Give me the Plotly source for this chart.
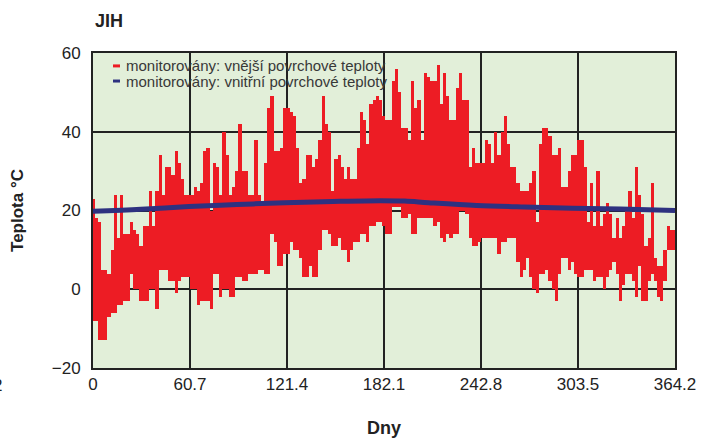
import plotly.graph_objects as go

# Days (2-day steps) and outer surface temperature envelope (daily max / min)
days = list(range(0, 366, 2))
outer_hi = [23,18,17,5,5,4,10,24,13,24,14,14,17,15,14,11,16,16,25,16,25,34,24,31,31,29,35,32,28,24,24,
            24,26,25,27,35,36,20,32,31,24,40,34,24,26,30,42,30,30,24,24,38,24,22,32,46,49,35,35,36,46,
            46,45,44,36,27,28,34,34,31,33,38,49,42,40,25,33,34,31,28,31,28,28,36,45,43,37,47,48,49,48,44,
            43,43,53,56,50,41,41,38,53,46,48,38,55,54,53,53,57,47,55,49,43,43,51,55,48,48,31,36,32,32,
            32,38,37,32,40,34,40,44,37,31,31,27,25,25,25,27,30,17,37,41,41,39,34,34,36,26,26,30,34,
            34,38,38,31,17,27,16,30,16,19,22,19,13,18,13,16,20,25,18,31,24,19,11,13,27,8,6,6,10,16,15,15]
outer_lo = [-8,-8,-13,-13,-13,-7,-6,-6,-4,-4,-3,-3,4,0,0,-3,-3,-3,0,0,-5,5,5,5,2,2,-1,2,3,3,3,
            0,0,-4,-3,-3,-3,-5,4,4,-2,0,0,-2,-2,3,3,2,2,4,4,4,5,5,4,4,14,12,6,6,9,
            9,12,10,10,8,3,3,6,3,3,10,15,15,14,11,11,13,10,10,7,10,12,12,14,14,12,16,16,17,17,16,
            14,14,21,21,21,18,18,19,14,14,18,18,18,18,18,16,17,13,12,14,13,14,14,20,20,19,13,11,11,12,
            13,13,13,13,13,9,12,12,13,13,13,7,3,5,8,3,0,-1,4,4,5,2,0,-3,4,8,8,5,7,
            4,3,3,5,5,5,2,3,3,0,3,5,7,4,-3,1,4,4,2,-2,6,-3,-3,2,4,2,-2,-3,2,10,10,10]

# Inner surface temperature
inner_days = [0, 30, 60, 90, 120, 150, 180, 195, 210, 240, 270, 300, 330, 364.2]
inner_t = [19.8, 20.3, 21.0, 21.5, 22.0, 22.3, 22.5, 22.4, 22.0, 21.3, 20.9, 20.6, 20.4, 20.0]

x_ticks = [0, 60.7, 121.4, 182.1, 242.8, 303.5, 364.2]
x_ticklabels = ["0", "60.7", "121.4", "182.1", "242.8", "303.5", "364.2"]
y_ticks = [-20, 0, 20, 40, 60]

name_outer = "monitorovány: vnější povrchové teploty"
name_inner = "monitorovány: vnitřní povrchové teploty"

RED = "#ed1c24"
BLUE = "#2e3180"
SANS = "Liberation Sans, Arial, sans-serif"
DARK = "#222222"

fig = go.Figure()
fig.add_trace(go.Bar(
    x=days, y=[h - l for h, l in zip(outer_hi, outer_lo)], base=outer_lo,
    width=2, marker=dict(color=RED, line=dict(width=0)), showlegend=False,
    name=name_outer))
fig.add_trace(go.Scatter(
    x=inner_days, y=inner_t, mode="lines", line=dict(color=BLUE, width=5, shape="spline"),
    showlegend=False, name=name_inner))

# legend drawn as two compact rows inside the plot
leg_x_text = 0.053
leg_rows = [(0.959, RED, name_outer), (0.911, BLUE, name_inner)]
annotations = []
shapes = []
for yy, col, txt in leg_rows:
    annotations.append(dict(text=txt, xref="paper", yref="paper", x=leg_x_text, y=yy,
                            xanchor="left", yanchor="middle", showarrow=False,
                            font=dict(family=SANS, size=15, color="#383838")))
    shapes.append(dict(type="line", xref="paper", yref="paper", x0=0.0344, x1=0.0464,
                       y0=yy, y1=yy, line=dict(color=col, width=3)))

annotations.append(dict(text="<b>JIH</b>", xref="paper", yref="paper", x=0.0, y=1.1,
                        xanchor="left", yanchor="middle", showarrow=False,
                        font=dict(family=SANS, size=18, color=DARK)))
annotations.append(dict(text="2", xref="paper", yref="paper", x=-0.153, y=0, xanchor="right",
                        yanchor="top", yshift=-6, showarrow=False,
                        font=dict(family=SANS, size=17, color=DARK)))

fig.update_layout(
    width=714, height=439,
    margin=dict(l=93, r=39, t=53, b=71),
    paper_bgcolor="white", plot_bgcolor="#e2efd9",
    bargap=0,
    showlegend=False,
    font=dict(family=SANS, color=DARK),
    annotations=annotations,
    shapes=shapes,
)
fig.update_xaxes(range=[0, 364.2], tickvals=x_ticks, ticktext=x_ticklabels, automargin=False,
                 showgrid=True, gridcolor=DARK, gridwidth=1.5,
                 showline=True, linecolor=DARK, linewidth=2, mirror=True,
                 zeroline=False, ticks="", tickfont=dict(family=SANS, size=17, color=DARK),
                 title=dict(text="<b>Dny</b>", font=dict(family=SANS, size=18, color=DARK), standoff=28))
fig.update_yaxes(range=[-20, 60], tickvals=y_ticks, automargin=False,
                 showgrid=True, gridcolor=DARK, gridwidth=1.5,
                 showline=True, linecolor=DARK, linewidth=2, mirror=True,
                 zeroline=False, ticks="outside", ticklen=7, tickcolor="rgba(0,0,0,0)",
                 tickfont=dict(family=SANS, size=17, color=DARK),
                 title=dict(text="<b>Teplota °C</b>", font=dict(family=SANS, size=17, color=DARK), standoff=24))

fig.write_html("out.html", config={"displayModeBar": False},
               post_script="document.body.style.margin='0';")
